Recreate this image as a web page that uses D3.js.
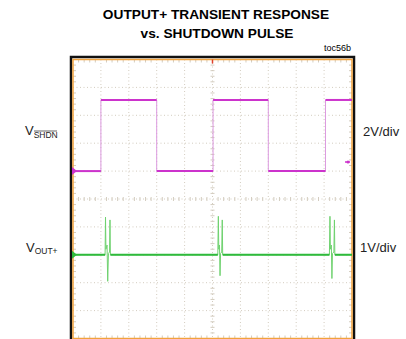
<!DOCTYPE html>
<html>
<head>
<meta charset="utf-8">
<script src="https://cdn.jsdelivr.net/npm/d3@7"></script>
<style>
  body { margin: 0; background: #fff; }
  text { font-family: "Liberation Sans", Arial, sans-serif; }
</style>
</head>
<body>
<svg width="406" height="339"></svg>
<script>
let svg = d3.select("svg");
let width = +svg.attr("width");
let height = +svg.attr("height");

// scope screen: 10 x 10 divisions
let divTicks = [0, 1, 2, 3, 4, 5, 6, 7, 8, 9, 10];

// SHDN channel (2V/div, ground 1 div above centre)
let shdnTime = [0, 1.0, 1.0, 3.0, 3.0, 5.02, 5.02, 7.0, 7.0, 9.05, 9.05, 10];
let shdnVolts = [0, 0, 5.1, 5.1, 0, 0, 5.1, 5.1, 0, 0, 5.1, 5.1];

// OUT+ channel (1V/div, ground 2 div below centre)
let outTime = [0, 1.15, 1.165, 1.18, 1.22, 1.244, 1.27, 1.31, 1.326, 1.34,
  5.19, 5.21, 5.225, 5.25, 5.27, 5.29, 5.33, 5.35, 5.365,
  9.19, 9.21, 9.225, 9.26, 9.28, 9.30, 9.35, 9.37, 9.385, 10];
let outVolts = [0, 0, 1.35, 0.2, 0.35, -0.95, 0.05, 0.1, 1.25, 0,
  0, 1.38, 0.2, 0.35, -0.75, 0.05, 0.1, 1.25, 0,
  0, 1.38, 0.2, 0.35, -0.85, 0.05, 0.1, 1.25, 0, 0];

let shdnScale = 2, shdnOffset = 1;
let outScale = 1, outOffset = -2;

let x = d3.scaleLinear().domain([0, 10]).range([73, 352]);
let y = d3.scaleLinear().domain([-5, 5]).range([338.5, 59.5]);

svg.append("rect").attr("width", width).attr("height", height).attr("fill", "#fff");

// titles
svg.append("text")
  .attr("x", 216).attr("y", 18.5)
  .attr("text-anchor", "middle")
  .style("font-size", "13.7px").style("font-weight", "bold")
  .text("OUTPUT+ TRANSIENT RESPONSE");
svg.append("text")
  .attr("x", 217).attr("y", 37.5)
  .attr("text-anchor", "middle")
  .style("font-size", "13.7px").style("font-weight", "bold")
  .text("vs. SHUTDOWN PULSE");
svg.append("text")
  .attr("x", 351).attr("y", 51)
  .attr("text-anchor", "end")
  .style("font-size", "9px")
  .text("toc56b");

// grid
let grid = svg.append("g").attr("stroke", "#d3ccbf").attr("stroke-width", 1);
grid.selectAll(".vg")
  .data(divTicks.slice(1, 10))
  .enter()
  .append("line")
  .attr("x1", (d) => x(d)).attr("x2", (d) => x(d))
  .attr("y1", y(5)).attr("y2", y(-5))
  .attr("stroke-dasharray", "1,2.5");
grid.selectAll(".hg")
  .data(divTicks.slice(1, 10))
  .enter()
  .append("line")
  .attr("y1", (d) => y(d - 5)).attr("y2", (d) => y(d - 5))
  .attr("x1", x(0)).attr("x2", x(10))
  .attr("stroke-dasharray", "1,2.5");

// minor ticks on centre axes and edges
let minor = d3.range(0, 50).map((i) => i / 5).filter((d) => d % 1 !== 0);
let tickG = svg.append("g").attr("stroke", "#d3ccbf").attr("stroke-width", 1);
[[5, 2], [0, 3], [10, -3]].forEach(([cy, len]) => {
  tickG.selectAll(null)
    .data(minor)
    .enter()
    .append("line")
    .attr("x1", (d) => x(d)).attr("x2", (d) => x(d))
    .attr("y1", y(cy - 5) - (cy === 5 ? len : 0))
    .attr("y2", y(cy - 5) + (cy === 5 ? len : -len));
});
[[5, 2], [0, 3], [10, -3]].forEach(([cx, len]) => {
  tickG.selectAll(null)
    .data(minor)
    .enter()
    .append("line")
    .attr("y1", (d) => y(d - 5)).attr("y2", (d) => y(d - 5))
    .attr("x1", x(cx) - (cx === 5 ? len : 0))
    .attr("x2", x(cx) + len);
});

// frame
svg.append("rect")
  .attr("x", 71).attr("y", 57)
  .attr("width", 283).attr("height", 290)
  .attr("fill", "none").attr("stroke", "#111").attr("stroke-width", 2.5);
svg.append("rect")
  .attr("x", x(0)).attr("y", y(5))
  .attr("width", x(10) - x(0)).attr("height", y(-5) - y(5))
  .attr("fill", "none").attr("stroke", "#f2a23c").attr("stroke-width", 1.5);

// trigger marker
svg.append("line")
  .attr("x1", x(5)).attr("x2", x(5))
  .attr("y1", y(5)).attr("y2", y(5) + 4)
  .attr("stroke", "#e0402a").attr("stroke-width", 1.5);

// traces
let shdnPts = shdnTime.map((t, i) => ({ t: t, v: shdnVolts[i] / shdnScale + shdnOffset }));
let outPts = outTime.map((t, i) => ({ t: t, v: outVolts[i] / outScale + outOffset, raw: outVolts[i] }));

let line = d3.line().x((d) => x(d.t)).y((d) => y(d.v));

svg.append("path")
  .attr("d", line(shdnPts))
  .attr("fill", "none").attr("stroke", "#dc9ae0").attr("stroke-width", 1);
let shdnFlat = shdnPts.slice(1).map((d, i) => [shdnPts[i], d]).filter((s) => s[0].v === s[1].v);
svg.append("g")
  .selectAll("path")
  .data(shdnFlat)
  .enter()
  .append("path")
  .attr("d", (d) => line(d))
  .attr("fill", "none").attr("stroke", "#cc33cc").attr("stroke-width", 2);

svg.append("path")
  .attr("d", line(outPts))
  .attr("fill", "none").attr("stroke", "#6fd26f").attr("stroke-width", 1);
svg.append("path")
  .attr("d", line.defined((d) => d.raw === 0)(outPts))
  .attr("fill", "none").attr("stroke", "#2fba3c").attr("stroke-width", 2);

// ground markers
svg.append("path")
  .attr("d", `M72,${y(shdnOffset) - 4}L77,${y(shdnOffset)}L72,${y(shdnOffset) + 4}Z`)
  .attr("fill", "#cc33cc");
svg.append("path")
  .attr("d", `M72,${y(outOffset) - 4}L77,${y(outOffset)}L72,${y(outOffset) + 4}Z`)
  .attr("fill", "#2fba3c");
svg.append("line")
  .attr("x1", 345).attr("x2", 350)
  .attr("y1", 162).attr("y2", 162)
  .attr("stroke", "#cc33cc").attr("stroke-width", 1.5);
svg.append("circle").attr("cx", 348).attr("cy", 162).attr("r", 1.5).attr("fill", "#cc33cc");

// channel labels
let labL = svg.append("g").style("font-size", "13px").attr("fill", "#222");
let t1 = labL.append("text").attr("x", 25).attr("y", 135);
t1.append("tspan").text("V");
t1.append("tspan").attr("dy", 3).style("font-size", "8.5px").text("SHDN");
labL.append("line")
  .attr("x1", 34).attr("x2", 57).attr("y1", 131).attr("y2", 131)
  .attr("stroke", "#222").attr("stroke-width", 0.7);
let t2 = labL.append("text").attr("x", 26).attr("y", 252);
t2.append("tspan").text("V");
t2.append("tspan").attr("dy", 2).style("font-size", "8.5px").text("OUT+");

svg.append("text").attr("x", 363).attr("y", 136)
  .style("font-size", "13px").attr("fill", "#222").text("2V/div");
svg.append("text").attr("x", 360).attr("y", 252)
  .style("font-size", "13px").attr("fill", "#222").text("1V/div");
</script>
</body>
</html>
